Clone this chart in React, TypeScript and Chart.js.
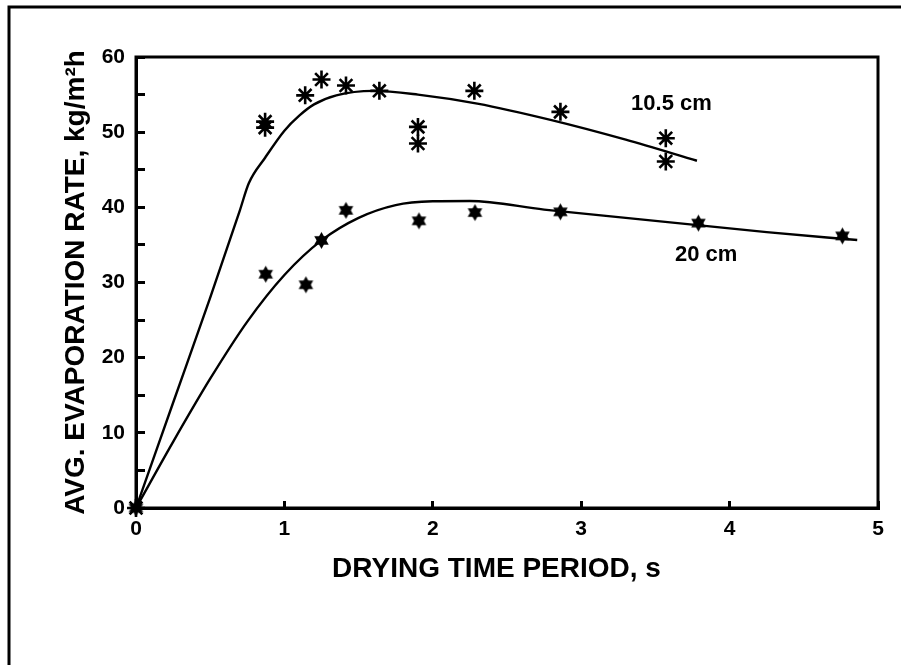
import React, { useEffect, useRef } from 'react';
import { Chart, registerables } from 'chart.js';

Chart.register(...registerables);

// ---- text ----
const X_TITLE = 'DRYING TIME PERIOD, s';
const Y_TITLE = 'AVG. EVAPORATION RATE, kg/m²h';
const LABEL_A = '10.5 cm';
const LABEL_B = '20 cm';

// ---- axes ----
const X_MIN = 0;
const X_MAX = 5;
const X_STEP = 1;
const Y_MIN = 0;
const Y_MAX = 60;
const Y_STEP = 5; // minor ticks every 5, labels every 10
const Y_LABEL_EVERY = 10;

// ---- measured points: 10.5 cm (asterisks) ----
const timeA = [0, 0.87, 0.87, 1.14, 1.25, 1.415, 1.64, 1.9, 1.9, 2.28, 2.86, 3.57, 3.57];
const rateA = [0, 51.4, 50.6, 54.9, 57.0, 56.2, 55.5, 50.7, 48.5, 55.5, 52.7, 49.2, 46.1];

// ---- measured points: 20 cm (six-pointed stars) ----
const timeB = [0, 0.874, 1.145, 1.25, 1.415, 1.907, 2.284, 2.86, 3.79, 4.76];
const rateB = [0, 31.1, 29.7, 35.6, 39.6, 38.2, 39.3, 39.4, 37.9, 36.2];

// ---- fitted curves ----
const fitTimeA = [0, 0.25, 0.5, 0.7, 0.76, 0.87, 1.0, 1.1, 1.2, 1.35, 1.6, 1.9, 2.3, 2.8, 3.3, 3.78];
const fitRateA = [0, 14, 28, 39.6, 43.2, 46.6, 50.2, 52.2, 53.7, 54.9, 55.5, 55.0, 53.8, 51.6, 49.0, 46.2];
const fitTimeB = [0, 0.25, 0.5, 0.75, 1.0, 1.25, 1.5, 1.75, 2.0, 2.25, 2.75, 3.25, 3.75, 4.25, 4.86];
const fitRateB = [0, 8.8, 17.2, 24.8, 31.0, 35.6, 38.6, 40.3, 40.8, 40.85, 39.7, 38.7, 37.7, 36.7, 35.65];

// ---- label anchors (data coordinates: left edge, baseline) ----
const LABEL_A_AT = [3.336, 52.95];
const LABEL_B_AT = [3.632, 32.8];

const FONT = '"Liberation Sans", Arial, Helvetica, sans-serif';

function zip(xs: number[], ys: number[]) {
  return xs.map((x, i) => ({ x, y: ys[i] }));
}

function makeHexagram(): HTMLCanvasElement {
  const c = document.createElement('canvas');
  const s = 19;
  c.width = s;
  c.height = s;
  const g = c.getContext('2d')!;
  const cx = s / 2;
  const cy = s / 2;
  const R = 8.4;
  g.fillStyle = '#000';
  for (const start of [-90, 90]) {
    g.beginPath();
    for (let k = 0; k < 3; k++) {
      const a = ((start + k * 120) * Math.PI) / 180;
      const px = cx + R * Math.cos(a);
      const py = cy + R * Math.sin(a);
      if (k === 0) g.moveTo(px, py);
      else g.lineTo(px, py);
    }
    g.closePath();
    g.fill();
  }
  return c;
}

const framePlugin = {
  id: 'framePlugin',
  beforeDraw(chart: any) {
    const { ctx, width, height } = chart;
    ctx.save();
    ctx.fillStyle = '#fff';
    ctx.fillRect(0, 0, width, height);
    ctx.strokeStyle = '#000';
    ctx.lineWidth = 3;
    ctx.beginPath();
    ctx.moveTo(9, height + 5);
    ctx.lineTo(9, 7);
    ctx.lineTo(width + 5, 7);
    ctx.stroke();
    ctx.restore();
  },
  beforeDatasetsDraw(chart: any) {
    const { ctx, chartArea: a } = chart;
    ctx.save();
    ctx.strokeStyle = '#000';
    ctx.lineWidth = 3;
    ctx.strokeRect(a.left, a.top, a.right - a.left, a.bottom - a.top);
    ctx.restore();
  },
  afterDraw(chart: any) {
    const { ctx, scales } = chart;
    const xs = scales.x;
    const ys = scales.y;
    ctx.save();
    ctx.fillStyle = '#000';
    ctx.font = `bold 22px ${FONT}`;
    ctx.textAlign = 'left';
    ctx.textBaseline = 'alphabetic';
    ctx.fillText(LABEL_A, xs.getPixelForValue(LABEL_A_AT[0]), ys.getPixelForValue(LABEL_A_AT[1]));
    ctx.fillText(LABEL_B, xs.getPixelForValue(LABEL_B_AT[0]), ys.getPixelForValue(LABEL_B_AT[1]));
    ctx.font = `bold 28px ${FONT}`;
    ctx.textAlign = 'center';
    ctx.textBaseline = 'middle';
    ctx.fillText(X_TITLE, 496.5, 569.5);
    ctx.restore();
  },
};

export default function App() {
  const ref = useRef<HTMLCanvasElement | null>(null);

  useEffect(() => {
    const canvas = ref.current;
    if (!canvas) return;
    const hexagram = makeHexagram();

    const chart = new Chart(canvas, {
      type: 'scatter',
      data: {
        datasets: [
          {
            label: LABEL_A,
            data: zip(timeA, rateA),
            pointStyle: 'star',
            pointRadius: 9,
            pointBorderWidth: 2.6,
            borderColor: '#000',
            backgroundColor: '#000',
            showLine: false,
            clip: false,
          },
          {
            label: LABEL_B,
            data: zip(timeB, rateB),
            pointStyle: hexagram,
            pointRadius: 9,
            showLine: false,
            borderColor: '#000',
            backgroundColor: '#000',
            clip: false,
          },
          {
            label: LABEL_A + ' fit',
            data: zip(fitTimeA, fitRateA),
            showLine: true,
            pointRadius: 0,
            borderColor: '#000',
            borderWidth: 2.4,
            cubicInterpolationMode: 'monotone',
            fill: false,
          },
          {
            label: LABEL_B + ' fit',
            data: zip(fitTimeB, fitRateB),
            showLine: true,
            pointRadius: 0,
            borderColor: '#000',
            borderWidth: 2.4,
            cubicInterpolationMode: 'monotone',
            fill: false,
          },
        ],
      },
      options: {
        animation: false,
        responsive: false,
        maintainAspectRatio: false,
        events: [],
        layout: { padding: { top: 57, right: 23, bottom: 0, left: 0 } },
        plugins: {
          legend: { display: false },
          tooltip: { enabled: false },
          title: { display: false },
        },
        scales: {
          x: {
            type: 'linear',
            position: 'bottom',
            min: X_MIN,
            max: X_MAX,
            afterFit: (s: any) => {
              s.height = 157;
            },
            ticks: {
              stepSize: X_STEP,
              autoSkip: false,
              color: '#000',
              padding: 16,
              font: { family: FONT, size: 21, weight: 'bold' },
              callback: (v: any) => String(v),
            },
            grid: {
              drawOnChartArea: false,
              drawTicks: true,
              tickLength: -7,
              tickWidth: 3,
              tickColor: '#000',
            },
            border: { display: true, color: '#000', width: 3 },
            title: { display: false, text: X_TITLE },
          },
          y: {
            type: 'linear',
            position: 'left',
            min: Y_MIN,
            max: Y_MAX,
            afterFit: (s: any) => {
              s.width = 136;
            },
            ticks: {
              stepSize: Y_STEP,
              autoSkip: false,
              color: '#000',
              padding: 20,
              font: { family: FONT, size: 21, weight: 'bold' },
              callback: (v: any) => (Number(v) % Y_LABEL_EVERY === 0 ? String(v) : ''),
            },
            grid: {
              drawOnChartArea: false,
              drawTicks: true,
              tickLength: -9,
              tickWidth: 3,
              tickColor: '#000',
            },
            border: { display: true, color: '#000', width: 3 },
            title: {
              display: true,
              text: Y_TITLE,
              color: '#000',
              font: { family: FONT, size: 28, weight: 'bold' },
              padding: { top: 59, bottom: 0 },
            },
          },
        },
      },
      plugins: [framePlugin],
    } as any);

    return () => chart.destroy();
  }, []);

  return (
    <canvas
      ref={ref}
      width={901}
      height={665}
      style={{ position: 'fixed', left: 0, top: 0, width: 901, height: 665, display: 'block' }}
    />
  );
}
